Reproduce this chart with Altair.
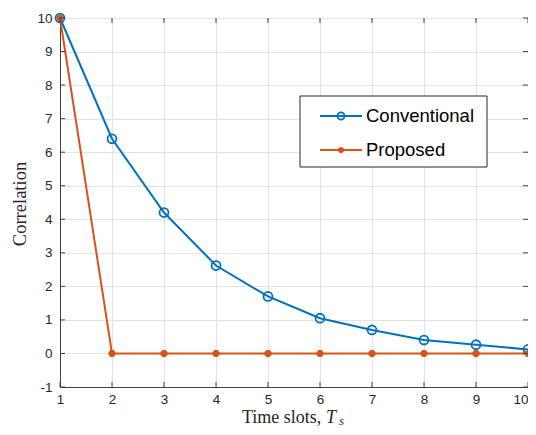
import altair as alt
import pandas as pd

x_vals = [1, 2, 3, 4, 5, 6, 7, 8, 9, 10]
conventional = [10, 6.4, 4.2, 2.62, 1.7, 1.05, 0.7, 0.4, 0.26, 0.12]
proposed = [10, 0, 0, 0, 0, 0, 0, 0, 0, 0]
series_names = ["Conventional", "Proposed"]
x_ticks = [1, 2, 3, 4, 5, 6, 7, 8, 9, 10]
y_ticks = [-1, 0, 1, 2, 3, 4, 5, 6, 7, 8, 9, 10]

W, H = 468, 369
BLUE = "#0072BD"
ORANGE = "#D95319"
AX = "#404040"
SANS = "Liberation Sans"
SERIF = "Liberation Serif"

df_c = pd.DataFrame({"x": x_vals, "y": conventional})
df_p = pd.DataFrame({"x": x_vals, "y": proposed})
df_xt = pd.DataFrame({"x": x_ticks})
df_yt = pd.DataFrame({"y": y_ticks})
one = pd.DataFrame({"a": [0]})

xs = alt.Scale(domain=[1, 10], nice=False, zero=False)
ys = alt.Scale(domain=[-1, 10], nice=False, zero=False)
xaxis = alt.Axis(values=x_ticks, title=None, grid=True, tickSize=0, labelPadding=5,
                 domainColor=AX, gridColor="#e3e3e3", labelFont=SANS, labelFontSize=13.5,
                 labelColor="#262626", labelFlush=False, labelExpr="'' + datum.value",
                 labelAlign={"condition": {"test": "datum.value == 10", "value": "right"}, "value": "center"})
yaxis = alt.Axis(values=y_ticks, title=None, grid=True, tickSize=0, labelPadding=8,
                 domainColor=AX, gridColor="#e3e3e3", labelFont=SANS, labelFontSize=13.5,
                 labelColor="#262626", labelExpr="'' + datum.value")

def X(f="x"):
    return alt.X(f"{f}:Q", scale=xs, axis=xaxis)

def Y(f="y"):
    return alt.Y(f"{f}:Q", scale=ys, axis=yaxis)

line_c = alt.Chart(df_c).mark_line(color=BLUE, strokeWidth=2).encode(x=X(), y=Y())
pts_c = alt.Chart(df_c).mark_point(color=BLUE, filled=False, size=80, strokeWidth=1.8, opacity=1).encode(x=X(), y=Y())
line_p = alt.Chart(df_p).mark_line(color=ORANGE, strokeWidth=2).encode(x=X(), y=Y())
AST = "M-1,0L1,0M0,-1L0,1M-0.7,-0.7L0.7,0.7M-0.7,0.7L0.7,-0.7"
pts_p = alt.Chart(df_p).mark_point(color=ORANGE, filled=False, size=50, strokeWidth=2.8, shape=AST, opacity=1).encode(x=X(), y=Y())

tick_b = alt.Chart(df_xt).mark_rule(color=AX).encode(x=X(), y=alt.value(H), y2=alt.value(H - 5))
tick_t = alt.Chart(df_xt).mark_rule(color=AX).encode(x=X(), y=alt.value(0), y2=alt.value(5))
tick_l = alt.Chart(df_yt).mark_rule(color=AX).encode(y=Y(), x=alt.value(0), x2=alt.value(5))
tick_r = alt.Chart(df_yt).mark_rule(color=AX).encode(y=Y(), x=alt.value(W), x2=alt.value(W - 5))

# legend
leg_box = alt.Chart(one).mark_rect(fill="white", stroke="#262626", strokeWidth=1).encode(
    x=alt.value(240), x2=alt.value(427), y=alt.value(78), y2=alt.value(149))
legend_layers = [leg_box]
for name, col, yy, is_c in [(series_names[0], BLUE, 98, True), (series_names[1], ORANGE, 132, False)]:
    legend_layers.append(alt.Chart(one).mark_rule(color=col, strokeWidth=2).encode(
        x=alt.value(260), x2=alt.value(302), y=alt.value(yy)))
    if is_c:
        legend_layers.append(alt.Chart(one).mark_point(color=col, filled=False, size=50, strokeWidth=1.8, opacity=1).encode(
            x=alt.value(281), y=alt.value(yy)))
    else:
        legend_layers.append(alt.Chart(one).mark_point(color=col, filled=False, size=36, strokeWidth=2.6, shape=AST, opacity=1).encode(
            x=alt.value(281), y=alt.value(yy)))
    legend_layers.append(alt.Chart(one).mark_text(text=name, font=SANS, fontSize=18.5, align="left",
                                                   baseline="middle", color="#000000").encode(
        x=alt.value(306), y=alt.value(yy)))

# axis titles
t1 = alt.Chart(one).mark_text(text="Time slots,", font=SERIF, fontSize=18, align="left",
                              baseline="alphabetic", color="#262626").encode(x=alt.value(182), y=alt.value(405))
t2 = alt.Chart(one).mark_text(text="T", font=SERIF, fontSize=18, fontStyle="italic", align="left",
                              baseline="alphabetic", color="#262626").encode(x=alt.value(266), y=alt.value(405))
t3 = alt.Chart(one).mark_text(text="s", font=SERIF, fontSize=13, fontStyle="italic", align="left",
                              baseline="alphabetic", color="#262626").encode(x=alt.value(279), y=alt.value(407))
ty = alt.Chart(one).mark_text(text="Correlation", font=SERIF, fontSize=18.5, angle=270, align="center",
                              baseline="middle", color="#262626").encode(x=alt.value(-40), y=alt.value(186))

chart = alt.layer(
    line_c, line_p, pts_c, pts_p, tick_b, tick_t, tick_l, tick_r,
    *legend_layers, t1, t2, t3, ty
).properties(
    width=W, height=H,
    autosize=alt.AutoSizeParams(type="none"),
    padding={"left": 52, "top": 10, "right": 0, "bottom": 40},
).configure_view(stroke=AX, strokeWidth=1).configure(background="white")

chart.save("out.html", embed_options={"renderer": "svg", "actions": False})
